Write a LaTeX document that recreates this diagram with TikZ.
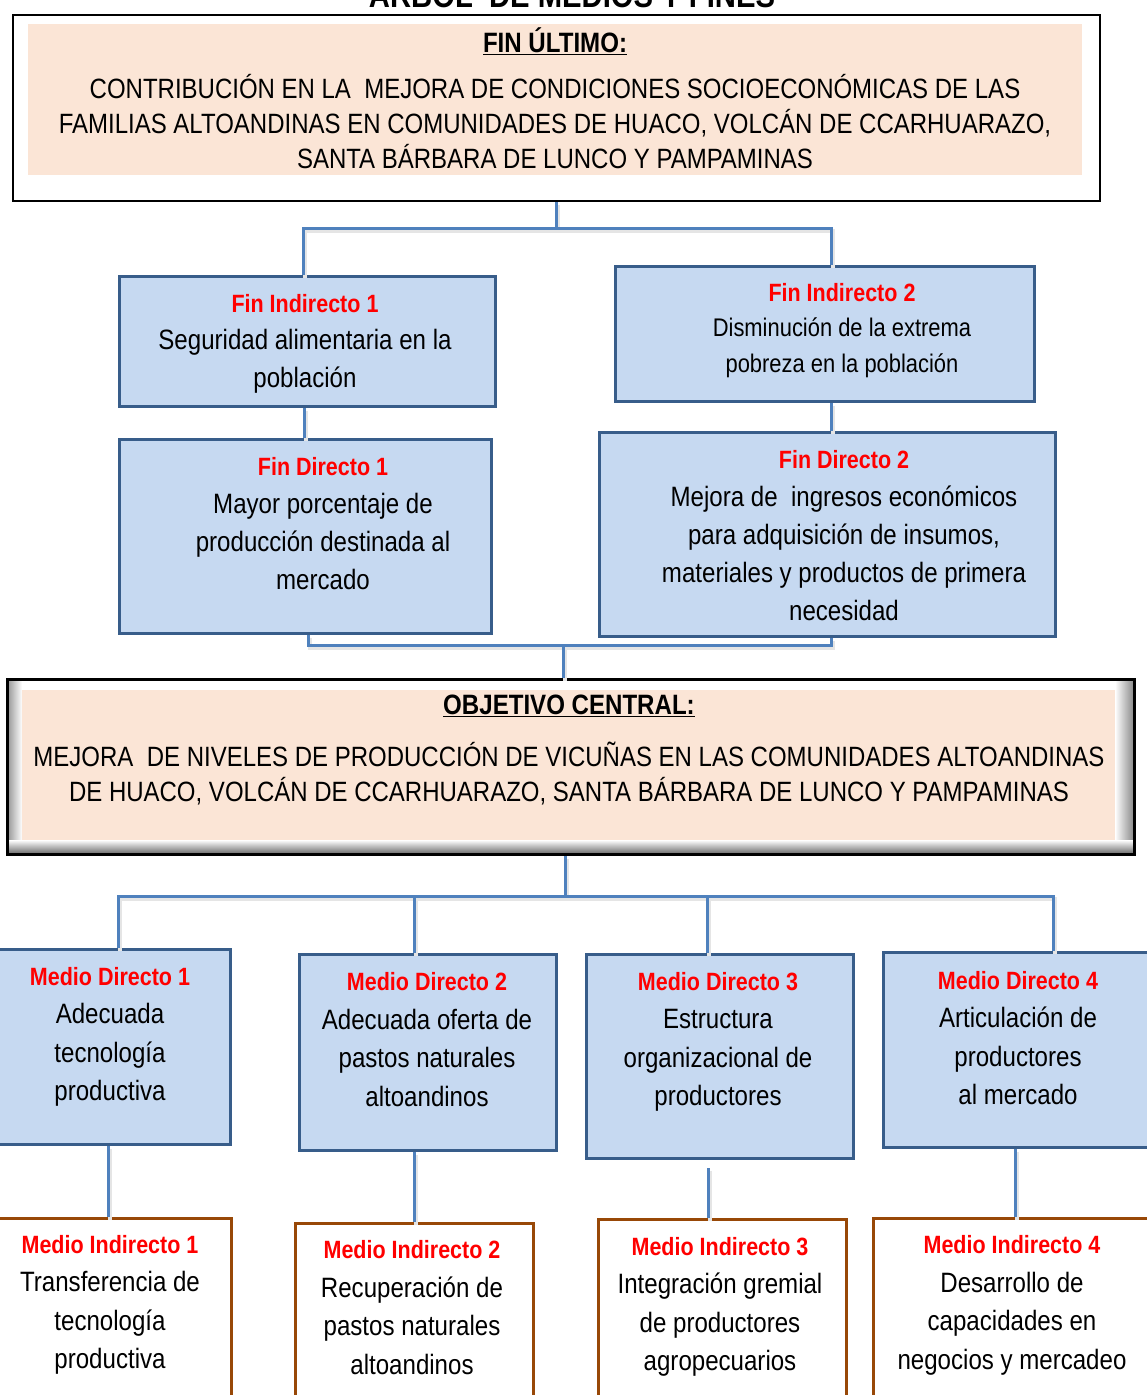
\documentclass[tikz,border=0pt]{standalone}
\usepackage{fontspec}
\setmainfont{Liberation Sans}[FakeStretch=0.86]
\definecolor{peach}{HTML}{FBE5D6}
\definecolor{fillblue}{HTML}{C6D9F1}
\definecolor{boxblue}{HTML}{385D8A}
\definecolor{connblue}{HTML}{4F81BD}
\definecolor{brownc}{HTML}{984807}
\newcommand\ttl[1]{\strut{\color{red}\bfseries\fontsize{25}{30}\selectfont #1}}
\newcommand\bl[1]{\strut #1}
\tikzset{
  bluebox/.style={draw=boxblue, line width=3pt, fill=fillblue, inner sep=0, anchor=north west},
  brownbox/.style={draw=brownc, line width=2.5pt, fill=white, inner sep=0, anchor=north west},
  conn/.style={draw=connblue, line width=3pt,
    preaction={draw=black!10, line width=4pt, transform canvas={shift={(1.5pt,-2.5pt)}}}},
  txt/.style={align=center, inner sep=0, font=\fontsize{28}{38.5}\selectfont},
}
\begin{document}
\begin{tikzpicture}[x=1pt,y=-1pt]
\useasboundingbox (0,0) rectangle (1146,1395);
% title (cut at top)
\node[font=\bfseries\fontsize{34}{40}\selectfont, anchor=base, inner sep=0] (title) at (572,7) {ARBOL\ \ DE MEDIOS Y FINES};

% ---------- FIN ULTIMO ----------
\node[draw=black, line width=2pt, minimum width=1087, minimum height=186, anchor=north west, inner sep=0] (fu) at (12,14) {};
\fill[peach] (28,24) rectangle (1082,175);
\node[txt, font=\bfseries\fontsize{28}{34}\selectfont] (futitle) at (555,41) {\underline{FIN ÚLTIMO:}};
\node[txt, font=\fontsize{27.9}{33.5}\selectfont] (futext) at (555,126.5)
 {\bl{CONTRIBUCIÓN EN LA\ \ MEJORA DE CONDICIONES SOCIOECONÓMICAS DE LAS}\\
  \bl{FAMILIAS ALTOANDINAS EN COMUNIDADES DE HUACO, VOLCÁN DE CCARHUARAZO,}\\
  \bl{SANTA BÁRBARA DE LUNCO Y PAMPAMINAS}};

% ---------- FINES ----------
\node[bluebox, minimum width=376, minimum height=130] (fi1) at (118,275) {};
\node[bluebox, minimum width=419, minimum height=135] (fi2) at (614,265) {};
\node[bluebox, minimum width=372, minimum height=194] (fd1) at (118,438) {};
\node[bluebox, minimum width=456, minimum height=204] (fd2) at (598,431) {};

\node[txt, font=\fontsize{28}{37.5}\selectfont] (fi1t) at (305,342)
 {\ttl{Fin Indirecto 1}\\\bl{Seguridad alimentaria en la}\\\bl{población}};
\node[txt, font=\fontsize{25.5}{35.5}\selectfont] (fi2t) at (842,329.4)
 {\ttl{Fin Indirecto 2}\\\bl{Disminución de la extrema}\\\bl{pobreza en la población}};
\node[txt, font=\fontsize{28}{38}\selectfont] (fd1t) at (323,525.3)
 {\ttl{Fin Directo 1}\\\bl{Mayor porcentaje de}\\\bl{producción destinada al}\\\bl{mercado}};
\node[txt, font=\fontsize{28}{38}\selectfont] (fd2t) at (844,537.3)
 {\ttl{Fin Directo 2}\\\bl{Mejora de\ \ ingresos económicos}\\\bl{para adquisición de insumos,}\\\bl{materiales y productos de primera}\\\bl{necesidad}};

% ---------- OBJETIVO CENTRAL ----------
\fill[white] (6,678) rectangle (1133,853);
\shade[left color=black!45, right color=white] (6,678) rectangle (22,853);
\shade[left color=white, right color=black!45] (1115,678) rectangle (1133,853);
\shade[top color=white, bottom color=black!55] (6,840) rectangle (1133,853);
\fill[peach] (22,690) rectangle (1115,840);
\node[draw=black, line width=3pt, minimum width=1127, minimum height=175, anchor=north west, inner sep=0] (oc) at (6,678) {};
\node[txt, font=\bfseries\fontsize{28}{34}\selectfont] (octitle) at (569,706) {\underline{OBJETIVO CENTRAL:}};
\node[txt, font=\fontsize{27.9}{35}\selectfont] (octext) at (569,776.5)
 {\bl{MEJORA\ \ DE NIVELES DE PRODUCCIÓN DE VICUÑAS EN LAS COMUNIDADES ALTOANDINAS}\\
  \bl{DE HUACO, VOLCÁN DE CCARHUARAZO, SANTA BÁRBARA DE LUNCO Y PAMPAMINAS}};

% ---------- MEDIOS ----------
\node[bluebox, minimum width=234, minimum height=195] (md1) at (-5,948) {};
\node[bluebox, minimum width=257, minimum height=196] (md2) at (298,953) {};
\node[bluebox, minimum width=267, minimum height=204] (md3) at (585,953) {};
\node[bluebox, minimum width=268, minimum height=195] (md4) at (882,951) {};

\node[brownbox, minimum width=235, minimum height=190] (mi1) at (-5,1217) {};
\node[brownbox, minimum width=238, minimum height=185] (mi2) at (294,1222) {};
\node[brownbox, minimum width=248, minimum height=190] (mi3) at (597,1218) {};
\node[brownbox, minimum width=278, minimum height=190] (mi4) at (872,1217) {};

\node[txt] (md1t) at (110,1035.3)
 {\ttl{Medio Directo 1}\\\bl{Adecuada}\\\bl{tecnología}\\\bl{productiva}};
\node[txt] (md2t) at (427,1040.8)
 {\ttl{Medio Directo 2}\\\bl{Adecuada oferta de}\\\bl{pastos naturales}\\\bl{altoandinos}};
\node[txt] (md3t) at (718,1040.3)
 {\ttl{Medio Directo 3}\\\bl{Estructura}\\\bl{organizacional de}\\\bl{productores}};
\node[txt] (md4t) at (1018,1039.3)
 {\ttl{Medio Directo 4}\\\bl{Articulación de}\\\bl{productores}\\\bl{al mercado}};

\node[txt] (mi1t) at (110,1303.3)
 {\ttl{Medio Indirecto 1}\\\bl{Transferencia de}\\\bl{tecnología}\\\bl{productiva}};
\node[txt] (mi2t) at (412,1308.8)
 {\ttl{Medio Indirecto 2}\\\bl{Recuperación de}\\\bl{pastos naturales}\\\bl{altoandinos}};
\node[txt] (mi3t) at (720,1305.3)
 {\ttl{Medio Indirecto 3}\\\bl{Integración gremial}\\\bl{de productores}\\\bl{agropecuarios}};
\node[txt] (mi4t) at (1012,1303.8)
 {\ttl{Medio Indirecto 4}\\\bl{Desarrollo de}\\\bl{capacidades en}\\\bl{negocios y mercadeo}};

% ---------- CONNECTORS ----------
\coordinate (j1) at (555.5,228);
\draw[conn] (fu.south) -- (fu.south |- j1);
\draw[conn] ([xshift=-4]fi1.north) |- (j1) -| ([xshift=6.5]fi2.north);
\draw[conn] ([xshift=-3]fi1.south) -- ([xshift=-3]fi1.south |- fd1.north);
\draw[conn] ([xshift=6.5]fi2.south) -- ([xshift=6.5]fi2.south |- fd2.north);

\coordinate (j2) at (563,645);
\draw[conn] ([xshift=3]fd1.south) |- (j2) -| ([xshift=4]fd2.south);
\draw[conn] (j2) -- (j2 |- oc.north);

\coordinate (j3) at (565,896);
\coordinate (d1) at (118,896);
\coordinate (d2) at (414,896);
\coordinate (d3) at (707,896);
\coordinate (d4) at (1053,896);
\draw[conn] (j3 |- oc.south) -- (j3);
\draw[conn] (d1 |- md1.north) -- (d1) -- (d4) -- (d4 |- md4.north);
\draw[conn] (d2) -- (d2 |- md2.north);
\draw[conn] (d3) -- (d3 |- md3.north);

\coordinate (e1) at (108,0);
\coordinate (e2) at (414,0);
\coordinate (e3) at (708,0);
\coordinate (e4) at (1015,0);
\draw[conn] (e1 |- md1.south) -- (e1 |- mi1.north);
\draw[conn] (e2 |- md2.south) -- (e2 |- mi2.north);
\draw[conn] ([yshift=-8]e3 |- md3.south) -- (e3 |- mi3.north);
\draw[conn] (e4 |- md4.south) -- (e4 |- mi4.north);
\end{tikzpicture}
\end{document}
